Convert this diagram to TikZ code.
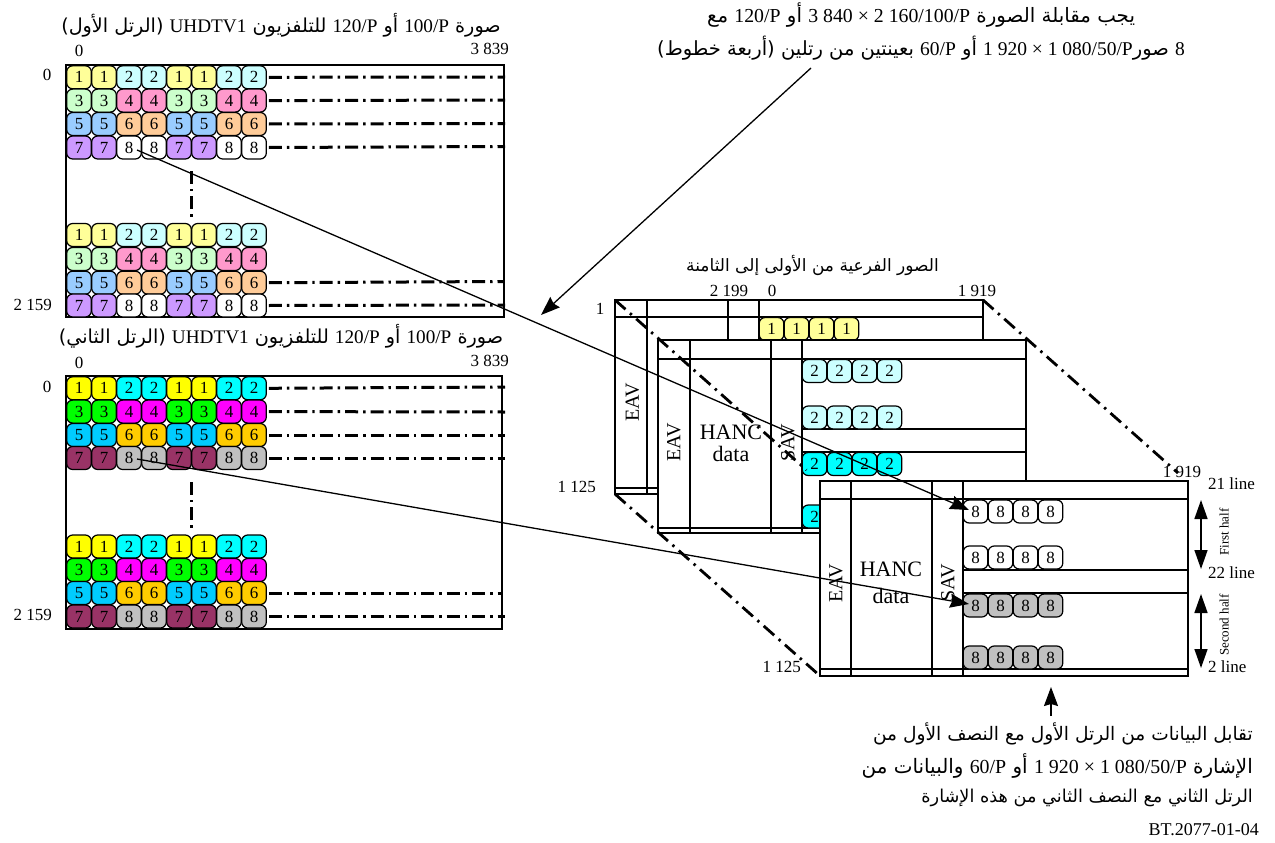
\documentclass[tikz,border=0pt]{standalone}
\usepackage{fontspec}
\setmainfont{Liberation Serif}
\newfontfamily\arabicfont[Script=Arabic]{DejaVu Sans}
\TeXXeTstate=1
\usetikzlibrary{arrows.meta}
\definecolor{p1}{HTML}{FFFF99}\definecolor{p2}{HTML}{CCFFFF}\definecolor{p3}{HTML}{CCFFCC}\definecolor{p4}{HTML}{FF99CC}
\definecolor{p5}{HTML}{99CCFF}\definecolor{p6}{HTML}{FFCC99}\definecolor{p7}{HTML}{CC99FF}\definecolor{p8}{HTML}{FFFFFF}
\definecolor{s1}{HTML}{FFFF00}\definecolor{s2}{HTML}{00FFFF}\definecolor{s3}{HTML}{00FF00}\definecolor{s4}{HTML}{FF00FF}
\definecolor{s5}{HTML}{00CCFF}\definecolor{s6}{HTML}{FFCC00}\definecolor{s7}{HTML}{993366}\definecolor{s8}{HTML}{C0C0C0}
\newcommand\LT[1]{\beginL{\rmfamily #1}\endL{}}
\newcommand\arz[1]{\fontsize{#1}{#1}\selectfont\arabicfont}
\newcommand\bank[3]{%
 \foreach \yy/\aa/\bb [count=\r] in {#3}{%
  \foreach \col/\nn in {1/\aa,2/\aa,3/\bb,4/\bb,5/\aa,6/\aa,7/\bb,8/\bb}{%
   \node[cell,fill=#2\nn] (#1-\r-\col) at ({54+25*\col},\yy) {\nn};}}}
\newcommand\strip[5]{%
 \foreach \col in {1,2,3,4}{%
   \node[cell,fill=#2] (#1-\col) at ({#3+25*\col-12.5},#4) {#5};}}
\tikzset{
 cell/.style={draw=black,line width=1.2pt,rounded corners=6pt,minimum width=24.6pt,minimum height=23pt,inner sep=0pt,font=\fontsize{17}{17}\selectfont},
 frameline/.style={draw=black,line width=1.6pt},
 dd/.style={draw=black,line width=3pt,dash pattern=on 13pt off 5pt on 2.4pt off 5pt},
 ddp/.style={draw=black,line width=2.8pt,dash pattern=on 14pt off 6pt on 2.4pt off 6pt},
 conn/.style={draw=black,line width=1.3pt,-{Stealth[length=19pt,width=14pt,inset=2pt]}},
 dbl/.style={draw=black,line width=1.5pt,{Triangle[length=19pt,width=13pt]}-{Triangle[length=19pt,width=13pt]}},
 num/.style={inner sep=0pt,font=\fontsize{17}{17}\selectfont},
 big/.style={inner sep=0pt,font=\fontsize{22}{22}\selectfont},
 lab/.style={inner sep=0pt,font=\fontsize{20}{20}\selectfont,rotate=90},
 tiny/.style={inner sep=0pt,font=\fontsize{13}{13}\selectfont,rotate=90},
 artext/.style={inner sep=0pt},
}
\begin{document}
\begin{tikzpicture}[x=1pt,y=-1pt]
\useasboundingbox (0,0) rectangle (1275,843);
\fill[white] (0,0) rectangle (1275,843);
% ---------- titles
\node[artext] (t1) at (281,25) {\arz{19.2}\beginR صورة \LT{100/P} أو \LT{120/P} للتلفزيون \LT{UHDTV1} (الرتل الأول)\endR};
\node[artext] (t2) at (281,336) {\arz{19.2}\beginR صورة \LT{100/P} أو \LT{120/P} للتلفزيون \LT{UHDTV1} (الرتل الثاني)\endR};
\node[artext] (t3) at (812.5,265) {\arz{17}\beginR الصور الفرعية من الأولى إلى الثامنة\endR};
\node[artext] (t4) at (921,15) {\arz{19.8}\beginR يجب مقابلة الصورة \LT{3 840 × 2 160/100/P} أو \LT{120/P} مع\endR};
\node[artext] (t5) at (921,48) {\arz{19.5}\beginR \LT{8} صور\LT{1 920 × 1 080/50/P} أو \LT{60/P} بعينتين من رتلين (أربعة خطوط)\endR};
\node[artext,anchor=east] (t6) at (1253,734) {\arz{18.6}\beginR تقابل البيانات من الرتل الأول مع النصف الأول من\endR};
\node[artext,anchor=east] (t7) at (1253,766) {\arz{19.9}\beginR الإشارة \LT{1 920 × 1 080/50/P} أو \LT{60/P} والبيانات من\endR};
\node[artext,anchor=east] (t8) at (1253,798) {\arz{17.7}\beginR الرتل الثاني مع النصف الثاني من هذه الإشارة\endR};
\node[inner sep=0pt,anchor=east,font=\fontsize{18}{18}\selectfont] (ref) at (1259,830) {BT.2077-01-04};
% ---------- left frame 1
\draw[frameline] (66,65) rectangle (504,317);
\bank{a}{p}{77.3/1/2,100.6/3/4,124/5/6,147.5/7/8}
\bank{b}{p}{235/1/2,259/3/4,282.7/5/6,305.5/7/8}
\foreach \yy/\nm in {77/a1,100/a2,123.5/a3,146.5/a4}{\coordinate (\nm) at (505,\yy);}
\foreach \rw/\nm in {1/a1,2/a2,3/a3,4/a4}{\draw[dd] (a-\rw-8.east) ++(2,0) -- (\nm);}
\coordinate (b3e) at (504,281.5);\coordinate (b4e) at (505,305);
\draw[dd] (b-3-8.east) ++(2,0) -- (b3e);
\draw[dd] (b-4-8.east) ++(2,0) -- (b4e);
\coordinate (av1) at (191.5,171);\coordinate (av2) at (191.5,218);
\draw[dd] (av1) -- (av2);
\node[num] (n1) at (79,51) {0};
\node[num,anchor=east] (n2) at (509,49) {3 839};
\node[num] (n3) at (47,75) {0};
\node[num,anchor=east] (n4) at (52,305) {2 159};
% ---------- left frame 2
\draw[frameline] (66,376) rectangle (502,629);
\bank{c}{s}{388.3/1/2,411.6/3/4,435/5/6,458/7/8}
\bank{d}{s}{546.5/1/2,570/3/4,593/5/6,616.5/7/8}
\foreach \yy/\nm in {387/c1,412/c2,435/c3,458/c4}{\coordinate (\nm) at (505,\yy);}
\foreach \rw/\nm in {1/c1,2/c2,3/c3,4/c4}{\draw[dd] (c-\rw-8.east) ++(2,0) -- (\nm);}
\coordinate (d3e) at (502,593);\coordinate (d4e) at (505,616.5);
\draw[dd] (d-3-8.east) ++(2,0) -- (d3e);
\draw[dd] (d-4-8.east) ++(2,0) -- (d4e);
\coordinate (cv1) at (191.5,482);\coordinate (cv2) at (191.5,530);
\draw[dd] (cv1) -- (cv2);
\node[num] (n5) at (79,363) {0};
\node[num,anchor=east] (n6) at (509,361) {3 839};
\node[num] (n7) at (47,387) {0};
\node[num,anchor=east] (n8) at (52,615) {2 159};
% ---------- perspective stack: back frame
\draw[frameline,fill=white] (615,300) rectangle (983,494);
\draw[frameline] (615,317) -- (983,317) (647,300) -- (647,494) (728,300) -- (728,494) (759,300) -- (759,494) (615,488) -- (983,488);
\node[lab] (e1) at (632.5,402) {EAV};
\strip{f1}{p1}{759}{329}{1}
\coordinate (k1) at (615,300);\coordinate (k2) at (983,300);\coordinate (k3) at (615,494);
\coordinate (k4) at (806.5,470);\coordinate (k5) at (1178,473);\coordinate (k6) at (819,675);
% middle frame
\draw[frameline,fill=white] (658,340) rectangle (1026,533);
\draw[frameline] (658,359) -- (1026,359) (690,340) -- (690,533) (771,340) -- (771,533) (802,340) -- (802,533) (658,528) -- (1026,528) (802,429) -- (1026,429) (802,452) -- (1026,452);
\node[lab] (e2) at (674,442) {EAV};
\node[big] (h2) at (731,432) {HANC};
\node[big] (g2) at (731,454) {data};
\node[lab] (s2v) at (788,443) {SAV};
\strip{f2a}{p2}{802}{371}{2}
\strip{f2b}{p2}{802}{417.5}{2}
\strip{f2c}{s2}{802}{464}{2}
\strip{f2d}{s2}{802}{516.5}{2}
\draw[ddp] (k1) -- (k4);
\draw[ddp] (k2) -- (k5);
\draw[ddp] (k3) -- (k6);
% front frame
\draw[frameline,fill=white] (820,481) rectangle (1188,676);
\draw[frameline] (820,499) -- (1188,499) (851,481) -- (851,676) (932,481) -- (932,676) (963,481) -- (963,676) (820,669) -- (1188,669) (963,570) -- (1188,570) (963,593) -- (1188,593);
\node[lab] (e3) at (836,583) {EAV};
\node[big] (h3) at (891,569) {HANC};
\node[big] (g3) at (891,596) {data};
\node[lab] (s3v) at (948,583) {SAV};
\strip{f3a}{p8}{963}{511.5}{8}
\strip{f3b}{p8}{963}{557.5}{8}
\strip{f3c}{s8}{963}{605.5}{8}
\strip{f3d}{s8}{963}{657.5}{8}
% stack labels
\node[num] (m1) at (729,291) {2 199};
\node[num] (m2) at (772,291) {0};
\node[num] (m3) at (977,291) {1 919};
\node[num] (m4) at (600,309) {1};
\node[num,anchor=east] (m5) at (596,487) {1 125};
\node[num,anchor=east] (m6) at (801,667) {1 125};
\node[num] (m7) at (1182,472) {1 919};
\node[num,anchor=west] (l1) at (1208,484) {21 line};
\node[num,anchor=west] (l2) at (1208,573) {22 line};
\node[num,anchor=west] (l3) at (1208,667) {2 line};
\coordinate (h1a) at (1201,500);\coordinate (h1b) at (1201,569);
\coordinate (h2a) at (1201,594);\coordinate (h2b) at (1201,668);
\draw[dbl] (h1a) -- (h1b);
\draw[dbl] (h2a) -- (h2b);
\node[tiny] (q1) at (1224,532) {First half};
\node[tiny] (q2) at (1224,625) {Second half};
% connectors
\coordinate (a1s) at (137,150);\coordinate (a1t) at (969,510);
\coordinate (a2s) at (137,459);\coordinate (a2t) at (969,604);
\coordinate (a3s) at (811,68);\coordinate (a3t) at (541,315);
\coordinate (a4s) at (1051,716);\coordinate (a4t) at (1051,687);
\draw[conn] (a1s) -- (a1t);
\draw[conn] (a2s) -- (a2t);
\draw[conn] (a3s) -- (a3t);
\draw[conn] (a4s) -- (a4t);
\end{tikzpicture}
\end{document}
